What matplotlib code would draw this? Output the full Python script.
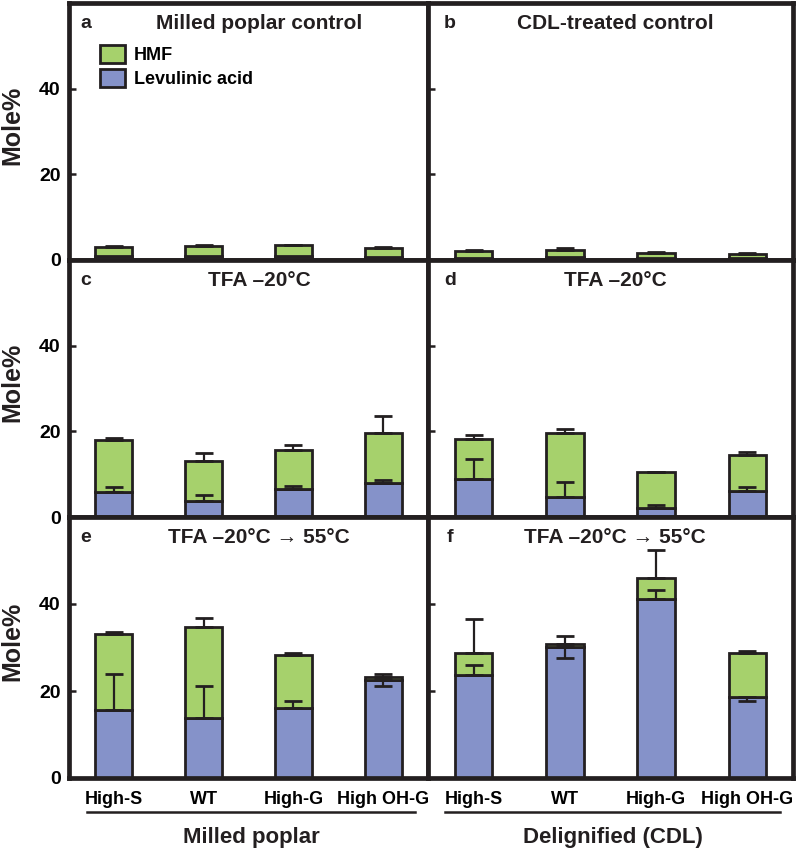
import numpy as np
import matplotlib.pyplot as plt
from matplotlib.lines import Line2D
from matplotlib.patches import Patch

plt.rcParams['font.family'] = ['Liberation Sans', 'DejaVu Sans']
plt.rcParams['font.weight'] = 'bold'

samples = ['High-S', 'WT', 'High-G', 'High OH-G']

# levulinic acid (bottom part), HMF (stacked on top), error on total, error on LA (negative = drawn down)
la_a = [0.9, 0.9, 0.9, 0.8]
hmf_a = [2.1, 2.3, 2.5, 2.0]
toterr_a = [0.3, 0.3, 0.2, 0.2]
laerr_a = [0, 0, 0, 0]

la_b = [0.5, 0.6, 0.5, 0.5]
hmf_b = [1.5, 1.7, 1.2, 1.0]
toterr_b = [0.3, 0.4, 0.1, 0.2]
laerr_b = [0, 0, 0, 0]

la_c = [5.8, 3.7, 6.6, 8.0]
hmf_c = [12.1, 9.4, 9.0, 11.7]
toterr_c = [0.6, 1.8, 1.2, 3.8]
laerr_c = [1.3, 1.5, 0.6, 0.7]

la_d = [8.9, 4.7, 2.2, 6.0]
hmf_d = [9.2, 14.8, 8.2, 8.4]
toterr_d = [1.0, 1.1, 0.2, 0.8]
laerr_d = [4.6, 3.4, 0.5, 1.0]

la_e = [15.6, 13.7, 16.0, 22.6]
hmf_e = [17.4, 20.9, 12.2, 0.6]
toterr_e = [0.5, 2.1, 0.5, 0.7]
laerr_e = [8.2, 7.4, 1.8, -1.5]

la_f = [23.6, 30.2, 41.2, 18.6]
hmf_f = [5.1, 0.7, 4.7, 10.2]
toterr_f = [7.9, 1.7, 6.4, 0.4]
laerr_f = [2.4, -2.7, 2.0, -0.9]

panels = [
    ('a', 'Milled poplar control', la_a, hmf_a, toterr_a, laerr_a),
    ('b', 'CDL-treated control', la_b, hmf_b, toterr_b, laerr_b),
    ('c', 'TFA \u201320\u00b0C', la_c, hmf_c, toterr_c, laerr_c),
    ('d', 'TFA \u201320\u00b0C', la_d, hmf_d, toterr_d, laerr_d),
    ('e', 'TFA \u201320\u00b0C \u2192 55\u00b0C', la_e, hmf_e, toterr_e, laerr_e),
    ('f', 'TFA \u201320\u00b0C \u2192 55\u00b0C', la_f, hmf_f, toterr_f, laerr_f),
]

green = '#a6d16c'
blue = '#8592c9'
dark = '#231f20'

W, H = 797, 852
fig = plt.figure(figsize=(W / 100, H / 100), dpi=100)

cols = [(69, 428), (428, 793)]
rows = [(3, 260), (260, 517), (517, 778)]

x = np.arange(4)
for i, (letter, title, la, hmf, toterr, laerr) in enumerate(panels):
    r, c = divmod(i, 2)
    x0, x1 = cols[c]
    y0, y1 = rows[r]
    ax = fig.add_axes([x0 / W, 1 - y1 / H, (x1 - x0) / W, (y1 - y0) / H])

    la = np.array(la, dtype=float)
    hmf = np.array(hmf, dtype=float)
    laerr = np.array(laerr, dtype=float)
    ax.bar(x, la, width=0.41, color=blue, edgecolor=dark, linewidth=2, zorder=2)
    ax.bar(x, hmf, width=0.41, bottom=la, color=green, edgecolor=dark, linewidth=2, zorder=2)

    ax.errorbar(x, la + hmf, yerr=[np.zeros(4), toterr], fmt='none', ecolor=dark,
                elinewidth=1.6, capsize=6.5, capthick=2, zorder=3)
    m = laerr != 0
    if m.any():
        up = np.clip(laerr[m], 0, None)
        down = np.clip(-laerr[m], 0, None)
        ax.errorbar(x[m], la[m], yerr=[down, up], fmt='none', ecolor=dark,
                    elinewidth=1.6, capsize=6.5, capthick=2, zorder=3)

    ax.set_xlim(-0.5, 3.5)
    ax.set_ylim(0, 60)
    ax.set_yticks([0, 20, 40])
    ax.tick_params(axis='y', direction='in', length=5, width=1.8, color=dark,
                   labelsize=14, pad=6, labelleft=(c == 0))
    ax.set_xticks(x)
    if r == 2:
        ax.set_xticklabels(samples, fontsize=13, fontweight='bold')
        ax.tick_params(axis='x', length=0, pad=9)
    else:
        ax.tick_params(axis='x', length=0, labelbottom=False)
    for sp in ax.spines.values():
        sp.set_linewidth(3.4)
        sp.set_color(dark)

    tx = 0.53 if c == 0 else 0.512
    lx = 0.047 if c == 0 else 0.06
    ax.text(tx, 0.92, title, transform=ax.transAxes, ha='center', va='center',
            fontsize=15, fontweight='bold', color=dark)
    ax.text(lx, 0.92, letter, transform=ax.transAxes, ha='center', va='center',
            fontsize=14, fontweight='bold', color=dark)

    if c == 0:
        fig.text(12 / W, 1 - ((y0 + y1) / 2 - 6) / H, 'Mole%', rotation=90, ha='center',
                 va='center', fontsize=18, fontweight='bold', color=dark)

    if i == 0:
        handles = [Patch(facecolor=green, edgecolor=dark, linewidth=2, label='HMF'),
                   Patch(facecolor=blue, edgecolor=dark, linewidth=2, label='Levulinic acid')]
        ax.legend(handles=handles, loc='upper left', bbox_to_anchor=(0.065, 0.865),
                  frameon=False, fontsize=13, handlelength=1.4, handleheight=1.2,
                  handletextpad=0.5, labelspacing=0.25, borderaxespad=0)

# group labels under the bottom row
for (xa, xb), name in [((87, 415), 'Milled poplar'), ((445, 780), 'Delignified (CDL)')]:
    fig.add_artist(Line2D([xa / W, xb / W], [1 - 812 / H] * 2, color=dark, linewidth=1.8))
    fig.text((xa + xb) / 2 / W, 1 - 838 / H, name, ha='center', va='center', fontsize=16,
             fontweight='bold', color=dark)

fig.savefig('out.png', dpi=100)
